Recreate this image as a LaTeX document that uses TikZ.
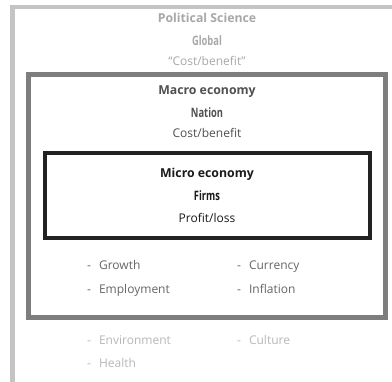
\documentclass[tikz,border=0pt]{standalone}
\usepackage{fontspec}
\setmainfont{Open Sans}
\newfontfamily\condbold[FakeStretch=0.72]{Open Sans Bold}
\definecolor{outergray}{HTML}{C4C4C4}
\definecolor{midgray}{HTML}{7E7E7E}
\definecolor{innerblack}{HTML}{222222}
\definecolor{txtlight}{HTML}{A8A8A8}
\definecolor{txtmid}{HTML}{505050}
\definecolor{txtdark}{HTML}{1A1A1A}
\definecolor{listmid}{HTML}{666666}
\definecolor{listlight}{HTML}{B8B8B8}
\begin{document}
\begin{tikzpicture}[x=1pt,y=-1pt,
  frame/.style={line width=4.5pt},
  title/.style={anchor=base,inner sep=0pt,font=\fontsize{12.3}{14}\selectfont\bfseries},
  sub/.style={anchor=base,inner sep=0pt,font=\fontsize{13}{14}\condbold},
  plain/.style={anchor=base,inner sep=0pt,font=\fontsize{12}{14}\selectfont},
  item/.style={anchor=base west,inner sep=0pt,font=\fontsize{12}{14}\selectfont}]
\useasboundingbox (0,0) rectangle (392,382);
\clip (0,0) rectangle (392,382);
\fill[white] (0,0) rectangle (392,382);
% outer frame (open to right and bottom)
\draw[frame,outergray] (400,7) -- (12.5,7) -- (12.5,400);
% middle frame
\draw[frame,midgray] (28.5,74.5) rectangle (385.5,317.5);
% inner frame
\draw[line width=4pt,innerblack] (45,153.5) rectangle (370,238.5);
% outer texts
\node[title,txtlight] (ps) at (207,22.7) {Political Science};
\node[sub,txtlight] (gl) at (207,45.5) {Global};
\node[plain,txtlight] (cb1) at (207,66) {``Cost/benefit''};
% macro texts
\node[title,txtmid] (ma) at (207,95) {Macro economy};
\node[sub,txtmid] (na) at (207,117.2) {Nation};
\node[plain,txtmid] (cb2) at (207,137.7) {Cost/benefit};
% micro texts
\node[title,txtdark] (mi) at (207,177.3) {Micro economy};
\node[sub,txtdark] (fi) at (207,200.5) {Firms};
\node[plain,txtdark] (pl) at (207,222.3) {Profit/loss};
% macro list
\node[item,listmid] (gr) at (87,270) {-\hspace{8pt}Growth};
\node[item,listmid] (em) at (87,293.3) {-\hspace{8pt}Employment};
\node[item,listmid] (cu) at (237,270) {-\hspace{8pt}Currency};
\node[item,listmid] (in) at (237,293.3) {-\hspace{8pt}Inflation};
% outer list
\node[item,listlight] (en) at (87,344.3) {-\hspace{8pt}Environment};
\node[item,listlight] (he) at (87,367.7) {-\hspace{8pt}Health};
\node[item,listlight] (cl) at (237,344.3) {-\hspace{8pt}Culture};
\end{tikzpicture}
\end{document}
